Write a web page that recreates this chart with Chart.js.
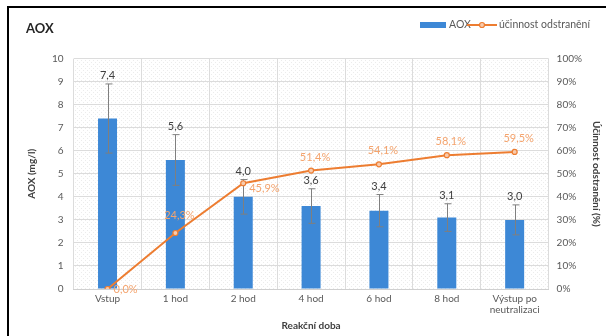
<!DOCTYPE html>
<html>
<head>
<meta charset="utf-8">
<script src="https://cdn.jsdelivr.net/npm/chart.js@4.4.0/dist/chart.umd.min.js"></script>
<style>
  html, body { margin: 0; padding: 0; background: #fff; }
  body { width: 606px; height: 336px; overflow: hidden; position: relative; }
  #frame {
    position: absolute; left: 7px; top: 6px; width: 600px; height: 340px;
    border-top: 2px solid #000; border-left: 2px solid #000;
  }
  #wrap { position: absolute; left: 9px; top: 8px; width: 597px; height: 328px; }
</style>
</head>
<body>
<div id="frame"></div>
<div id="wrap"><canvas id="chart" width="597" height="328"></canvas></div>
<script>
const categories = ['Vstup', '1 hod', '2 hod', '4 hod', '6 hod', '8 hod', ['Výstup po', 'neutralizaci']];
const aoxValues = [7.4, 5.6, 4.0, 3.6, 3.4, 3.1, 3.0];
const aoxErrors = [1.5, 1.1, 0.75, 0.75, 0.7, 0.6, 0.65];
const efficiency = [0.0, 24.3, 45.9, 51.4, 54.1, 58.1, 59.5];
const leftTicks = [0, 1, 2, 3, 4, 5, 6, 7, 8, 9, 10];
const rightTicks = [0, 10, 20, 30, 40, 50, 60, 70, 80, 90, 100];

const FONT = 'Lato, "Open Sans", sans-serif';
const BLUE = '#3D88D6';
const ORANGE = '#ED7D31';

function fmt(v) { return v.toFixed(1).replace('.', ','); }

// where each line label sits relative to its point
const lineLabelPos = ['right', 'above', 'right', 'above', 'above', 'above', 'above'];

function makePattern(ctx) {
  const c = document.createElement('canvas');
  c.width = 4; c.height = 4;
  const p = c.getContext('2d');
  p.fillStyle = '#ffffff';
  p.fillRect(0, 0, 4, 4);
  p.fillStyle = '#ececec';
  p.fillRect(0, 0, 1, 1);
  p.fillRect(2, 2, 1, 1);
  return ctx.createPattern(c, 'repeat');
}

const plotBg = {
  id: 'plotBg',
  beforeDraw(chart) {
    const { ctx, chartArea: a } = chart;
    ctx.save();
    ctx.fillStyle = makePattern(ctx);
    ctx.fillRect(a.left, a.top, a.right - a.left, a.bottom - a.top);
    ctx.restore();
  }
};

const errorBars = {
  id: 'errorBars',
  afterDatasetDraw(chart, args) {
    if (args.index !== 0) return;
    const { ctx } = chart;
    const y = chart.scales.y;
    const meta = chart.getDatasetMeta(0);
    ctx.save();
    ctx.strokeStyle = '#7f7f7f';
    ctx.lineWidth = 1;
    meta.data.forEach((bar, i) => {
      const x = Math.round(bar.x) + 0.5;
      const top = y.getPixelForValue(aoxValues[i] + aoxErrors[i]);
      const bot = y.getPixelForValue(aoxValues[i] - aoxErrors[i]);
      ctx.beginPath();
      ctx.moveTo(x, top); ctx.lineTo(x, bot);
      ctx.moveTo(x - 3, top); ctx.lineTo(x + 4, top);
      ctx.moveTo(x - 3, bot); ctx.lineTo(x + 4, bot);
      ctx.stroke();
    });
    ctx.restore();
  }
};

const valueLabels = {
  id: 'valueLabels',
  afterDatasetsDraw(chart) {
    const { ctx } = chart;
    const y = chart.scales.y;
    ctx.save();
    ctx.font = '11px ' + FONT;
    ctx.textAlign = 'center';
    ctx.textBaseline = 'bottom';
    ctx.fillStyle = '#404040';
    chart.getDatasetMeta(0).data.forEach((bar, i) => {
      const top = y.getPixelForValue(aoxValues[i] + aoxErrors[i]);
      ctx.fillText(fmt(aoxValues[i]), bar.x, top - 3);
    });
    ctx.fillStyle = '#F4A46E';
    chart.getDatasetMeta(1).data.forEach((pt, i) => {
      const txt = fmt(efficiency[i]) + '%';
      if (lineLabelPos[i] === 'right') {
        ctx.textAlign = 'left';
        ctx.textBaseline = 'middle';
        ctx.fillText(txt, pt.x + 6, pt.y + (i === 0 ? 0 : 5));
      } else {
        ctx.textAlign = 'center';
        ctx.textBaseline = 'bottom';
        ctx.fillText(txt, pt.x + 4, pt.y - (i === 1 ? 12 : 8));
      }
    });
    ctx.restore();
  }
};

const legendBox = {
  id: 'legendBox',
  afterDraw(chart) {
    const { ctx } = chart;
    const yy = 17;
    ctx.save();
    ctx.font = '10.5px ' + FONT;
    ctx.textBaseline = 'middle';
    ctx.fillStyle = BLUE;
    ctx.fillRect(411, yy - 3, 26, 6);
    ctx.fillStyle = '#595959';
    ctx.fillText('AOX', 440, yy);
    ctx.strokeStyle = ORANGE;
    ctx.lineWidth = 2;
    ctx.beginPath();
    ctx.moveTo(458, yy); ctx.lineTo(488, yy);
    ctx.stroke();
    ctx.beginPath();
    ctx.arc(473, yy, 2.5, 0, Math.PI * 2);
    ctx.fillStyle = '#F8CBAD';
    ctx.fill();
    ctx.lineWidth = 1.2;
    ctx.stroke();
    ctx.fillStyle = '#595959';
    ctx.fillText('účinnost odstranění', 490, yy);
    ctx.restore();
  }
};

new Chart(document.getElementById('chart'), {
  type: 'bar',
  data: {
    labels: categories,
    datasets: [
      {
        type: 'bar',
        label: 'AOX',
        data: aoxValues,
        backgroundColor: BLUE,
        barPercentage: 0.28,
        categoryPercentage: 1,
        yAxisID: 'y',
        order: 2
      },
      {
        type: 'line',
        label: 'účinnost odstranění',
        data: efficiency,
        borderColor: ORANGE,
        borderWidth: 2,
        pointRadius: 2.5,
        pointBackgroundColor: '#F8CBAD',
        pointBorderColor: ORANGE,
        pointBorderWidth: 1.2,
        tension: 0,
        yAxisID: 'y1',
        order: 1
      }
    ]
  },
  options: {
    responsive: false,
    animation: false,
    devicePixelRatio: 1,
    layout: { padding: { left: 17, right: 0, top: 9, bottom: 4 } },
    plugins: {
      legend: { display: false },
      tooltip: { enabled: false },
      title: {
        display: true,
        text: 'AOX',
        align: 'start',
        color: '#262626',
        font: { family: FONT, size: 13, weight: 'bold' },
        padding: { top: 4, bottom: 22 }
      }
    },
    scales: {
      x: {
        grid: { color: '#dcdcdc', drawTicks: false },
        border: { color: '#d0d0d0' },
        ticks: { color: '#595959', font: { family: FONT, size: 10, lineHeight: 1.1 }, padding: 4, maxRotation: 0, autoSkip: false },
        title: {
          display: true, text: 'Reakční doba', color: '#404040',
          font: { family: FONT, size: 10, weight: 'bold' }, padding: { top: 1, bottom: 0 }
        }
      },
      y: {
        position: 'left',
        min: 0, max: 10,
        afterBuildTicks: axis => { axis.ticks = leftTicks.map(v => ({ value: v })); },
        grid: { color: '#dcdcdc', drawTicks: false },
        border: { display: false },
        ticks: { color: '#595959', font: { family: FONT, size: 10 }, padding: 10, autoSkip: false },
        title: {
          display: true, text: 'AOX (mg/l)', color: '#404040',
          font: { family: FONT, size: 10, weight: 'bold' }, padding: { top: 0, bottom: 4 }
        }
      },
      y1: {
        position: 'right',
        min: 0, max: 100,
        afterBuildTicks: axis => { axis.ticks = rightTicks.map(v => ({ value: v })); },
        grid: { display: false, drawTicks: false },
        border: { display: false },
        ticks: { color: '#595959', font: { family: FONT, size: 10 }, padding: 8, autoSkip: false, callback: v => v + '%' },
        title: {
          display: true, text: 'Účinnost odstranění (%)', color: '#404040',
          font: { family: FONT, size: 10, weight: 'bold' }, padding: { top: 4, bottom: 0 }
        }
      }
    }
  },
  plugins: [plotBg, errorBars, valueLabels, legendBox]
});
</script>
</body>
</html>
